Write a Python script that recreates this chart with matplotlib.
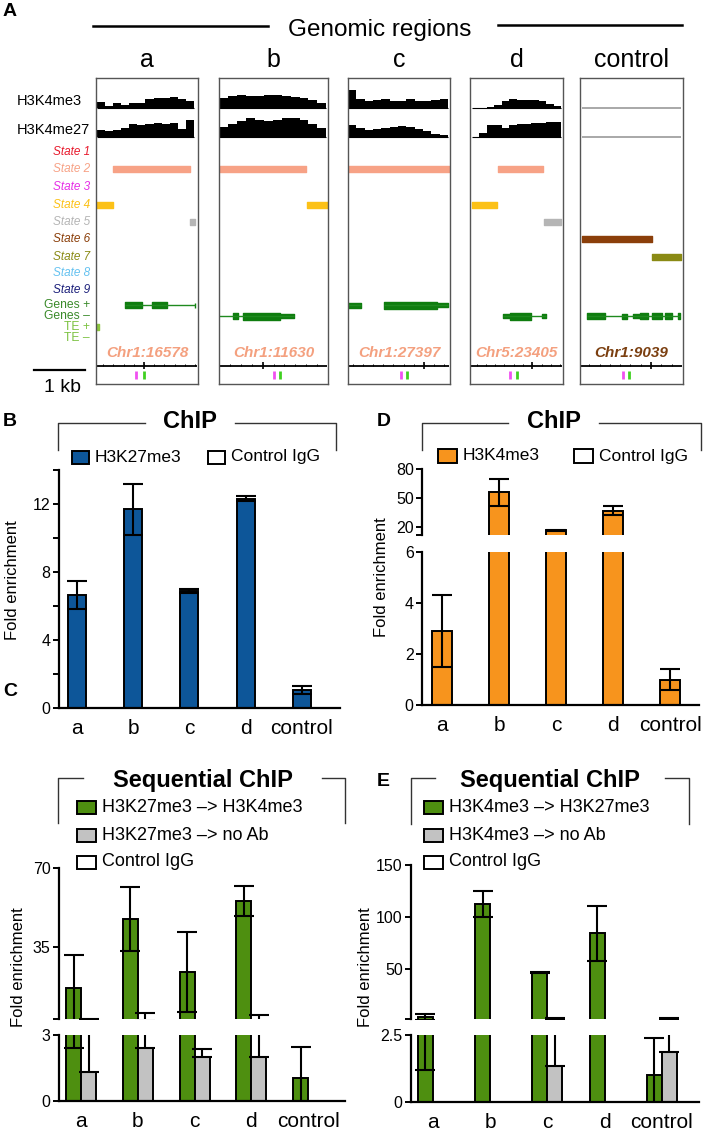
import numpy as np
import matplotlib.pyplot as plt
from matplotlib.patches import Rectangle

plt.rcParams['font.family'] = ['Liberation Sans', 'DejaVu Sans']

# ---------------- panel A data ----------------
regions = ['a', 'b', 'c', 'd', 'control']
chr_labels = ['Chr1:16578', 'Chr1:11630', 'Chr1:27397', 'Chr5:23405', 'Chr1:9039']
chr_colors = ['#f4a07f', '#f4a07f', '#f4a07f', '#f4a07f', '#7b3f10']

# signal profiles (relative track heights)
me3_profiles = [
    [6, 2, 5, 3, 5, 5, 9, 10, 10, 11, 9, 7],
    [10, 12, 13, 12, 12, 13, 13, 12, 11, 10, 8, 5],
    [18, 9, 7, 8, 9, 7, 7, 9, 7, 7, 8, 9],
    [0, 0, 1, 3, 7, 9, 8, 8, 8, 7, 4, 2],
    [0] * 12,
]
me27_profiles = [
    [7, 6, 7, 9, 13, 12, 13, 14, 13, 14, 8, 17],
    [10, 13, 16, 19, 17, 16, 17, 19, 19, 17, 13, 9],
    [12, 9, 7, 8, 9, 10, 11, 10, 8, 6, 3, 2],
    [0, 4, 12, 12, 9, 12, 13, 13, 14, 14, 15, 15],
    [0] * 12,
]
signal_span = [(0.01, 0.96), (0.0, 0.985), (0.0, 0.98), (0.02, 0.98), (0.02, 0.98)]

state_names = ['State 1', 'State 2', 'State 3', 'State 4', 'State 5',
               'State 6', 'State 7', 'State 8', 'State 9']
state_colors = ['#e8192c', '#f7a286', '#e62ee6', '#fcc117', '#b5b5b5',
                '#8b3f0a', '#8a8a14', '#66c2f0', '#1b1f7a']
feature_names = ['Genes +', 'Genes \u2013', 'TE +', 'TE \u2013']
feature_colors = ['#3a8a2a', '#3a8a2a', '#7cc242', '#7cc242']

# chromatin state segments: (state number, start, end) as fraction of window
state_segments = [
    [(2, 0.17, 0.92), (4, 0.0, 0.17), (5, 0.92, 0.975)],
    [(2, 0.0, 0.80), (4, 0.81, 1.0)],
    [(2, 0.0, 1.0)],
    [(2, 0.30, 0.785), (4, 0.02, 0.29), (5, 0.80, 0.98)],
    [(6, 0.02, 0.70), (7, 0.70, 0.98)],
]
# gene models: (track, intron start, intron end, [(block start, block end, thickness)])
gene_models = [
    [('Genes +', 0.28, 0.975, [(0.28, 0.45, 6), (0.55, 0.70, 6), (0.968, 0.975, 5)])],
    [('Genes \u2013', 0.0, 0.69, [(0.13, 0.17, 6), (0.22, 0.56, 7), (0.56, 0.69, 4)])],
    [('Genes +', 0.0, 0.13, [(0.0, 0.13, 5)]),
     ('Genes +', 0.35, 0.98, [(0.35, 0.875, 7), (0.875, 0.98, 4)])],
    [('Genes \u2013', 0.35, 0.815, [(0.35, 0.43, 4), (0.43, 0.66, 7), (0.77, 0.815, 4)])],
    [('Genes \u2013', 0.065, 0.97, [(0.065, 0.243, 6), (0.405, 0.453, 5), (0.511, 0.583, 4),
                                    (0.583, 0.663, 6), (0.696, 0.793, 6), (0.825, 0.89, 6),
                                    (0.955, 0.97, 6)])],
]
te_segments = [[('TE +', 0.0, 0.03)], [], [], [], []]

scale_major = [0.47, 0.40, 0.745, 0.67, 0.69]
primer_pink = [0.395, 0.50, 0.52, 0.43, 0.42]
primer_green = [0.47, 0.56, 0.58, 0.50, 0.48]

# ---------------- panels B-E data ----------------
groups = ['a', 'b', 'c', 'd', 'control']

chip_k27 = [6.65, 11.7, 6.9, 12.3, 1.05]
chip_k27_err = [0.8, 1.5, 0.12, 0.15, 0.25]

chip_k4 = [2.9, 56, 17, 37, 1.0]
chip_k4_err = [1.4, 14, 0.5, 4.5, 0.4]

seq_k27_k4 = [17, 47.5, 24, 55.4, 1.06]
seq_k27_k4_err = [14.6, 14.2, 17.8, 6.7, 1.4]
seq_k27_noab = [1.3, 2.4, 2.0, 1.98, 0]
seq_k27_noab_err = [2.0, 3.4, 0.35, 2.9, 0]

seq_k4_k27 = [4.2, 113, 47, 84.5, 1.0]
seq_k4_k27_err = [3.0, 12.5, 0.5, 26.5, 1.4]
seq_k4_noab = [0, 0, 1.34, 0, 1.87]
seq_k4_noab_err = [0, 0, 2.5, 0, 1.9]

BLUE = '#0d5699'
ORANGE = '#f7941d'
GREEN = '#4e8f10'
GRAY = '#c2c2c2'

W, H = 711, 1136
fig = plt.figure(figsize=(W / 100, H / 100), dpi=100)


def box(x0, y0, x1, y1):
    return [x0 / W, 1 - y1 / H, (x1 - x0) / W, (y1 - y0) / H]


ov = fig.add_axes([0, 0, 1, 1])
ov.set_xlim(0, W)
ov.set_ylim(H, 0)
ov.axis('off')

# ---------------- panel A ----------------
ov.text(3, 12, 'A', fontsize=14, fontweight='bold', va='center')
ov.plot([93, 268], [26, 26], color='k', lw=1.8)
ov.plot([498, 682], [25, 25], color='k', lw=1.8)
ov.text(380, 36, 'Genomic regions', fontsize=17.5, ha='center', va='baseline')

box_x = [(96, 198), (219, 328), (348, 450), (470, 563), (580, 683)]
row_y = [152, 169, 187, 205, 222, 239, 257, 273, 290]
feat_y = {'Genes +': 305, 'Genes \u2013': 316, 'TE +': 327, 'TE \u2013': 338}
base_me3, base_me27 = 108, 137

ov.text(17, 101, 'H3K4me3', fontsize=10.5, va='center')
ov.text(17, 130, 'H3K4me27', fontsize=10.5, va='center')
for name, col, y in zip(state_names, state_colors, row_y):
    ov.text(90, y, name, fontsize=8.5, style='italic', color=col, ha='right', va='center')
for name, col in zip(feature_names, feature_colors):
    ov.text(90, feat_y[name], name, fontsize=8.7, color=col, ha='right', va='center')
ov.plot([34, 85], [370, 370], color='k', lw=1.6)
ov.text(62, 387, '1 kb', fontsize=14, ha='center', va='center')

for i, reg in enumerate(regions):
    x0, x1 = box_x[i]
    ov.text((x0 + x1) / 2, 67, reg, fontsize=18, ha='center', va='baseline')
    ax = fig.add_axes(box(x0, 78, x1, 384))
    ax.set_xlim(0, 1)
    ax.set_ylim(384, 78)
    ax.set_xticks([])
    ax.set_yticks([])
    for sp in ax.spines.values():
        sp.set_color('#555555')
        sp.set_linewidth(1)

    s0, s1 = signal_span[i]
    sig_col = '#999999' if reg == 'control' else 'black'
    for prof, base in [(me3_profiles[i], base_me3), (me27_profiles[i], base_me27)]:
        edges = np.linspace(s0, s1, len(prof) + 1)
        ax.hlines(base, s0, s1, color=sig_col, lw=1.2 if reg == 'control' else 0.8)
        ax.stairs(base - np.array(prof), edges, baseline=base, fill=True, color='black')

    for st, a0, a1 in state_segments[i]:
        ax.broken_barh([(a0, a1 - a0)], (row_y[st - 1] - 3.3, 6.6), color=state_colors[st - 1])

    for track, g0, g1, blocks in gene_models[i]:
        y = feat_y[track]
        ax.hlines(y, g0, g1, color='#1f8a1f', lw=1)
        for b0, b1, th in blocks:
            ax.broken_barh([(b0, b1 - b0)], (y - th / 2, th), color='#0f7d0f')
    for track, t0, t1 in te_segments[i]:
        y = feat_y[track]
        ax.broken_barh([(t0, t1 - t0)], (y - 3, 6), color='#8cc63f')

    ax.text(0.5, 353, chr_labels[i], fontsize=11, fontweight='bold', style='italic',
            color=chr_colors[i], ha='center', va='center')

    ax.hlines(366, 0.01, 0.99, color='black', lw=1.3)
    minor = scale_major[i] + 0.1 * np.arange(-10, 11)
    minor = minor[(minor > 0.02) & (minor < 0.98)]
    ax.vlines(minor, 364, 366, color='black', lw=0.7)
    ax.vlines(scale_major[i], 362, 369, color='black', lw=1.2)
    ax.vlines(primer_pink[i], 371, 379, color='#f050f0', lw=2)
    ax.vlines(primer_green[i], 371, 379, color='#40d020', lw=2)


# ---------------- bar chart helpers ----------------
def style_axis(ax, xlabels=None):
    for s in ['top', 'right']:
        ax.spines[s].set_visible(False)
    ax.spines['left'].set_linewidth(1.6)
    ax.spines['bottom'].set_linewidth(1.6)
    ax.set_facecolor('none')
    ax.tick_params(axis='y', which='both', length=4, width=1.4, labelsize=11.5, pad=2)
    if xlabels is None:
        ax.spines['bottom'].set_visible(False)
        ax.set_xticks([])
    else:
        ax.set_xticks(np.arange(len(xlabels)))
        ax.set_xticklabels(xlabels)
        ax.tick_params(axis='x', length=0, labelsize=15, pad=8)


def draw_bars(ax, x, vals, errs, color, width, one_sided=False, ymin=0.0):
    # bars with error bars; error bars whose top is under ymin (a broken
    # axis floor) are left out so their caps do not peek over the edge
    x, vals, errs = np.asarray(x), np.asarray(vals, float), np.asarray(errs, float)
    keep = vals > 0
    x, vals, errs = x[keep], vals[keep], errs[keep]
    ax.bar(x, vals, width, color=color, edgecolor='black', linewidth=1.4)
    show = vals + errs > ymin
    lo = np.zeros(show.sum()) if one_sided else errs[show]
    ax.errorbar(x[show], vals[show], yerr=[lo, errs[show]], fmt='none', ecolor='black',
                elinewidth=1.5, capthick=1.5, capsize=7)


def bracket(x0, x1, xl, xr, y_top, y_bot, title, ty):
    ov.plot([x0, x0, xl], [y_bot, y_top, y_top], color='#333333', lw=1)
    ov.plot([xr, x1, x1], [y_top, y_top, y_bot], color='#333333', lw=1)
    ov.text((xl + xr) / 2, ty, title, fontsize=17, fontweight='bold', ha='center', va='center')


def legend_entry(x, y, color, label, w=17, h=13, fs=12.5):
    ov.add_patch(Rectangle((x, y - h / 2), w, h, facecolor=color, edgecolor='black', lw=1.4))
    ov.text(x + w + 6, y, label, fontsize=fs, va='center')


xpos = np.arange(len(groups))

# ---------------- panel B ----------------
ov.text(3, 421, 'B', fontsize=14, fontweight='bold', va='center')
bracket(58, 336, 145, 235, 423, 450, 'ChIP', 422)
legend_entry(72, 457, BLUE, 'H3K27me3')
legend_entry(208, 457, 'white', 'Control IgG')
axB = fig.add_axes(box(59, 470, 340, 708))
draw_bars(axB, xpos, chip_k27, chip_k27_err, BLUE, 0.32)
axB.set_xlim(-0.32, 4.68)
axB.set_ylim(0, 14)
style_axis(axB, groups)
axB.set_yticks([0, 4, 8, 12])
axB.set_yticks([2, 6, 10, 14], minor=True)
ov.text(13, 580, 'Fold enrichment', fontsize=12, rotation=90, ha='center', va='center')

# ---------------- panel D ----------------
ov.text(377, 422, 'D', fontsize=14, fontweight='bold', va='center')
bracket(422, 701, 508, 599, 423, 450, 'ChIP', 422)
legend_entry(438, 456, ORANGE, 'H3K4me3', w=19, h=14)
legend_entry(574, 456, 'white', 'Control IgG', w=19, h=14)
axDu = fig.add_axes(box(422, 469, 699, 535))
axDl = fig.add_axes(box(422, 552, 699, 705))
for ax, lo in ((axDu, 12), (axDl, 0)):
    draw_bars(ax, xpos, chip_k4, chip_k4_err, ORANGE, 0.35, ymin=lo)
    ax.set_xlim(-0.35, 4.5)
axDu.set_ylim(12, 80)
axDl.set_ylim(0, 6)
style_axis(axDu)
style_axis(axDl, groups)
axDu.set_yticks([12, 20, 50, 80])
axDu.set_yticklabels(['', '20', '50', '80'])
axDl.set_yticks([0, 2, 4, 6])
ov.text(382, 577, 'Fold enrichment', fontsize=12, rotation=90, ha='center', va='center')

# ---------------- panel C ----------------
wC = 0.265
ov.text(3, 691, 'C', fontsize=14, fontweight='bold', va='center')
bracket(58, 345, 83, 322, 778, 823, 'Sequential ChIP', 781)
legend_entry(77, 807, GREEN, 'H3K27me3 \u2013> H3K4me3', w=19, h=13, fs=13)
legend_entry(77, 835, GRAY, 'H3K27me3 \u2013> no Ab', w=19, h=13, fs=13)
legend_entry(77, 862, 'white', 'Control IgG', w=19, h=13, fs=13)
axCu = fig.add_axes(box(59, 868, 345, 1019))
axCl = fig.add_axes(box(59, 1035, 345, 1101))
for ax, lo in ((axCu, 3.1), (axCl, 0)):
    draw_bars(ax, xpos - wC / 2, seq_k27_k4, seq_k27_k4_err, GREEN, wC, ymin=lo)
    draw_bars(ax, xpos + wC / 2, seq_k27_noab, seq_k27_noab_err, GRAY, wC, one_sided=True, ymin=lo)
    ax.set_xlim(-0.39, 4.65)
axCu.set_ylim(3.1, 70)
axCl.set_ylim(0, 3)
style_axis(axCu)
style_axis(axCl, groups)
axCu.set_yticks([3.1, 35, 70])
axCu.set_yticklabels(['', '35', '70'])
axCl.set_yticks([0, 3])
ov.text(19, 967, 'Fold enrichment', fontsize=12, rotation=90, ha='center', va='center')

# ---------------- panel E ----------------
wE = 0.26
ov.text(377, 782, 'E', fontsize=14, fontweight='bold', va='center')
bracket(411, 689, 435, 665, 778, 824, 'Sequential ChIP', 781)
legend_entry(424, 807, GREEN, 'H3K4me3 \u2013> H3K27me3', w=19, h=13, fs=13)
legend_entry(424, 835, GRAY, 'H3K4me3 \u2013> no Ab', w=19, h=13, fs=13)
legend_entry(424, 862, 'white', 'Control IgG', w=19, h=13, fs=13)
axEu = fig.add_axes(box(411, 865, 699, 1019))
axEl = fig.add_axes(box(411, 1035, 699, 1102))
for ax, lo in ((axEu, 2.5), (axEl, 0)):
    draw_bars(ax, xpos - wE / 2, seq_k4_k27, seq_k4_k27_err, GREEN, wE, ymin=lo)
    draw_bars(ax, xpos + wE / 2, seq_k4_noab, seq_k4_noab_err, GRAY, wE, one_sided=True, ymin=lo)
    ax.set_xlim(-0.38, 4.65)
axEu.set_ylim(2.5, 150)
axEl.set_ylim(0, 2.5)
style_axis(axEu)
style_axis(axEl, groups)
axEu.set_yticks([2.5, 50, 100, 150])
axEu.set_yticklabels(['', '50', '100', '150'])
axEl.set_yticks([0, 2.5])
axEl.set_yticklabels(['0', '2.5'])
ov.text(366, 967, 'Fold enrichment', fontsize=12, rotation=90, ha='center', va='center')

fig.savefig('out.png', dpi=100)
